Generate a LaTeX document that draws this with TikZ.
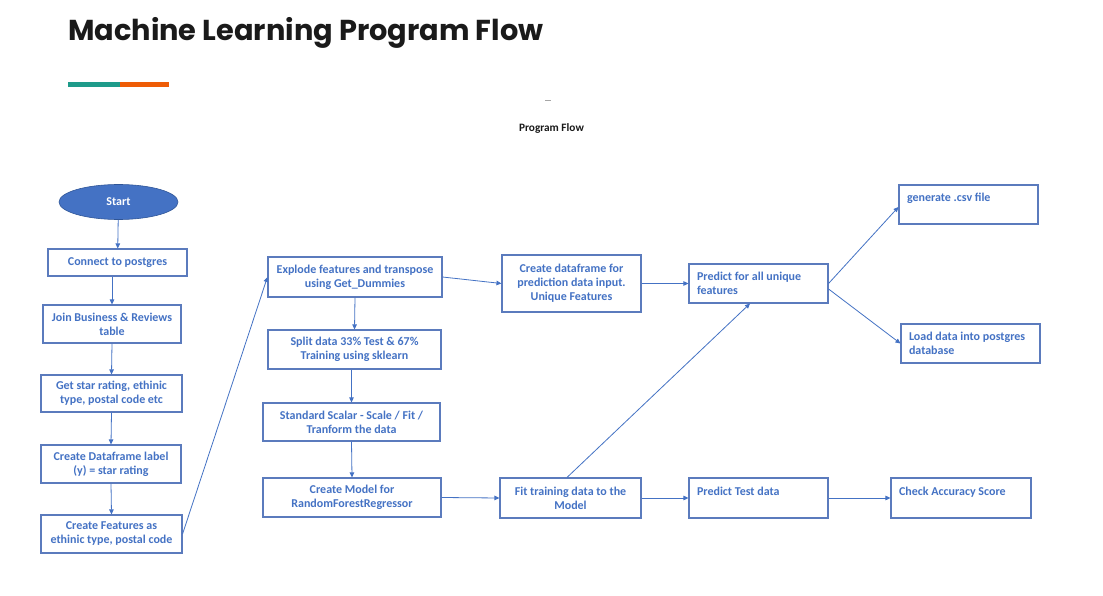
\documentclass[tikz,border=0pt]{standalone}
\usepackage{fontspec}
\setmainfont{Carlito}
\newfontfamily\titlefont{Poppins}
\usetikzlibrary{arrows.meta,shapes.geometric}
\definecolor{bblue}{HTML}{4472C4}
\definecolor{bord}{HTML}{5B7BBD}
\definecolor{startborder}{HTML}{2F5597}
\definecolor{tealbar}{HTML}{1E9B8A}
\definecolor{orangebar}{HTML}{EE5C06}
\definecolor{titlecol}{HTML}{1A1A1A}
\begin{document}
\begin{tikzpicture}[x=1pt,y=-1pt,
  box/.style={draw=bord, line width=1.1pt, text=bblue, align=center, inner sep=0pt,
    font=\bfseries\fontsize{12}{14}\selectfont},
  lbox/.style={box, align=flush left, inner xsep=8pt, text width=#1},
  arr/.style={draw=bblue, line width=0.8pt, -{Triangle[length=5pt,width=4.5pt]}},
  smallmark/.style={draw=black!35, line width=0.8pt}
]
\useasboundingbox (0,0) rectangle (1103,596);
\fill[white] (0,0) rectangle (1103,596);

% header
\node[anchor=base west, inner sep=0pt, text=titlecol,
  font=\titlefont\bfseries\fontsize{28.8}{34}\selectfont] (title) at (68,41) {Machine Learning Program Flow};
\fill[tealbar] (68,82) rectangle (120,87);
\fill[orangebar] (120,82) rectangle (169,87);
\draw[smallmark] (545,100) -- (551,100);
\node[text=titlecol, font=\bfseries\fontsize{11.3}{13}\selectfont] (pf) at (551.5,128) {Program Flow};

% column 1
\node[ellipse, fill=bblue, draw=startborder, line width=0.6pt, minimum width=119pt, minimum height=35pt,
  text=white, font=\bfseries\fontsize{12}{14}\selectfont] (start) at (118.5,202) {Start};
\node[box, minimum width=139pt, minimum height=27pt] (conn) at (117.5,262.5) {Connect to postgres};
\node[box, minimum width=138pt, minimum height=38pt] (join) at (112,324) {Join Business \& Reviews\\table};
\node[box, minimum width=141pt, minimum height=37pt] (get) at (111.5,393.5) {Get star rating, ethinic\\type, postal code etc};
\node[box, minimum width=140pt, minimum height=38pt] (cdf) at (111,464) {Create Dataframe label\\(y) = star rating};
\node[box, minimum width=141pt, minimum height=38pt] (feat) at (111.5,534) {Create Features as\\ethinic type, postal code};

% column 2
\node[box, minimum width=174pt, minimum height=40pt] (expl) at (355,277) {Explode features and transpose\\using Get\_Dummies};
\node[box, minimum width=173pt, minimum height=39pt] (split) at (354.5,349.5) {Split data 33\% Test \& 67\%\\Training using sklearn};
\node[box, minimum width=177pt, minimum height=38pt] (std) at (351.5,422) {Standard Scalar - Scale / Fit /\\Tranform the data};
\node[box, minimum width=178pt, minimum height=39pt] (model) at (352,497.5) {Create Model for\\RandomForestRegressor};

% column 3
\node[box, minimum width=139pt, minimum height=57pt] (cpred) at (571.5,283.5) {Create dataframe for\\prediction data input.\\Unique Features};
\node[box, minimum width=141pt, minimum height=40pt] (fit) at (570.5,498) {Fit training data to the\\Model};

% column 4 and 5
\node[lbox=123pt, minimum height=39pt] (pall) at (758.5,283.5) {Predict for all unique\\features};
\node[lbox=123pt, minimum height=40pt] (ptest) at (758.5,498) {Predict Test data\\\mbox{}};
\node[lbox=123pt, minimum height=39pt] (gen) at (968.5,204.5) {generate .csv file\\\mbox{}};
\node[lbox=123pt, minimum height=39pt] (load) at (970.5,343.5) {Load data into postgres\\database};
\node[lbox=124pt, minimum height=40pt] (check) at (961,498) {Check Accuracy Score\\\mbox{}};

% connectors
\draw[arr] (start) -- (conn);
\draw[arr] (join.north |- conn.south) -- (join.north);
\draw[arr] (join.south) -- (get.north);
\draw[arr] (get.south) -- (cdf.north);
\draw[arr] (cdf.south) -- (feat.north);
\draw[arr] (feat.east) -- (expl.west);
\draw[arr] (expl.east) -- (cpred.west);
\draw[arr] (expl.south) -- (split.north);
\draw[arr] (std.north |- split.south) -- (std.north);
\draw[arr] (std.south) -- (model.north);
\draw[arr] (model.east) -- (fit.west);
\draw[arr] (cpred.east) -- (pall.west);
\draw[arr] ([xshift=-3.5pt]fit.north) -- ([xshift=-8.5pt]pall.south);
\draw[arr] (fit.east) -- (ptest.west);
\draw[arr] (ptest.east) -- (check.west);
\draw[arr] (pall.east) -- ([yshift=-2.5pt]gen.west);
\draw[arr] ([yshift=-5.5pt]pall.east) -- (load.west);
\end{tikzpicture}
\end{document}
